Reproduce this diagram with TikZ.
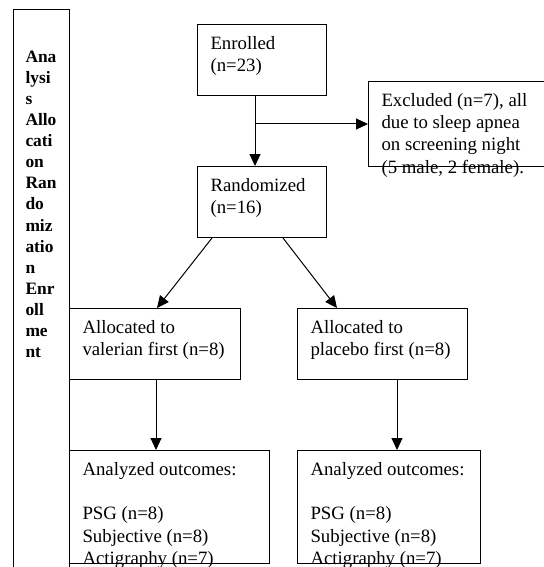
\documentclass[tikz,border=0pt]{standalone}
\usepackage{fontspec}
\setmainfont{Liberation Serif}
\usetikzlibrary{arrows.meta,calc}

% text set from the top left corner of a box
\newcommand{\boxtext}[4][9pt]{\parbox[c][#3][t]{#2}{\raggedright\vspace*{#1}\strut #4}}

\begin{document}
\begin{tikzpicture}[x=1pt, y=-1pt,
  flowbox/.style={draw, line width=1pt, anchor=north west, inner xsep=13pt, inner ysep=0pt,
    font=\fontsize{18.8}{22.3}\selectfont},
  phasebar/.style={flowbox, inner xsep=12pt, font=\bfseries\fontsize{17.4}{21.1}\selectfont},
  arr/.style={line width=1pt, -{Triangle[length=12pt, width=11pt]}}]
\useasboundingbox (0,0) rectangle (543,567);
% phase labels
\node [phasebar] (phase) at (13,9) {\boxtext[38pt]{32pt}{580pt}{Ana\\lysi\\s\\Allo\\cati\\on\\Ran\\do\\miz\\atio\\n\\Enr\\oll\\me\\nt}};
% boxes
\node [flowbox] (enr) at (197,24) {\boxtext{103pt}{71pt}{Enrolled\\(n=23)}};
\node [flowbox] (excl) at (368,81) {\boxtext{154pt}{85pt}{Excluded (n=7), all\\due to sleep apnea\\on screening night\\(5 male, 2 female).}};
\node [flowbox] (rand) at (197,166) {\boxtext{103pt}{71pt}{Randomized\\(n=16)}};
\node [flowbox] (allocL) at (69,308) {\boxtext{145pt}{71pt}{Allocated to\\valerian first (n=8)}};
\node [flowbox] (allocR) at (297,308) {\boxtext{144pt}{71pt}{Allocated to\\placebo first (n=8)}};
\node [flowbox] (anaL) at (69,450) {\boxtext{174pt}{113pt}{Analyzed outcomes:\\[22.3pt]PSG (n=8)\\Subjective (n=8)\\Actigraphy (n=7)}};
\node [flowbox] (anaR) at (297,450) {\boxtext{157pt}{113pt}{Analyzed outcomes:\\[22.3pt]PSG (n=8)\\Subjective (n=8)\\Actigraphy (n=7)}};
% connectors
\coordinate (split) at (255,124);
\draw [arr] (enr.south -| split) -- (rand.north -| split);
\draw [arr] (split) -- (excl.west |- split);
\draw [arr] ($(rand.south west)+(15,0)$) -- ($(allocL.north west)+(88,0)$);
\draw [arr] ($(rand.south west)+(86,0)$) -- ($(allocR.north west)+(40,0)$);
\draw [arr] ($(allocL.south west)+(87,0)$) -- ($(anaL.north west)+(87,0)$);
\draw [arr] ($(allocR.south west)+(100,0)$) -- ($(anaR.north west)+(100,0)$);
\end{tikzpicture}
\end{document}
